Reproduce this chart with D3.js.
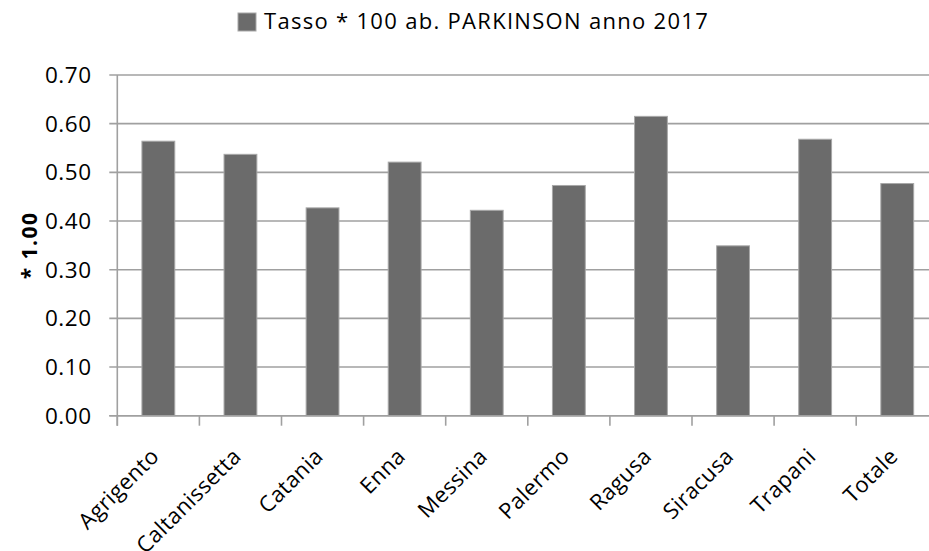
<!DOCTYPE html>
<html>
<head>
<meta charset="utf-8">
<script src="https://cdn.jsdelivr.net/npm/d3@7"></script>
<style>
  body { margin: 0; background: #fff; }
  svg { display: block; font-family: "Open Sans", sans-serif; }
</style>
</head>
<body>
<svg class="chart"></svg>
<script>
var provinces = ["Agrigento", "Caltanissetta", "Catania", "Enna", "Messina",
                 "Palermo", "Ragusa", "Siracusa", "Trapani", "Totale"];
var rates = [0.564, 0.537, 0.427, 0.521, 0.422, 0.473, 0.615, 0.349, 0.568, 0.477];
var yTicks = [0, 0.1, 0.2, 0.3, 0.4, 0.5, 0.6, 0.7];
var seriesName = "Tasso * 100 ab. PARKINSON anno 2017";
var yTitle = "* 1.00";

var data = provinces.map(function(p, i) { return {name: p, value: rates[i]}; });

var margin = {top: 75, left: 117.3},
    width = 821,
    height = 340.7;

var svg = d3.select(".chart")
    .attr("width", 929)
    .attr("height", 551);

var chart = svg.append("g")
    .attr("transform", "translate(" + margin.left + "," + margin.top + ")");

var x = d3.scaleBand()
    .domain(provinces)
    .range([0, width])
    .paddingInner(0.6)
    .paddingOuter(0.3);

var xOuter = d3.scaleBand()
    .domain(provinces)
    .range([0, width]);

var y = d3.scaleLinear()
    .domain([0, 0.7])
    .range([height, 0]);

// gridlines
chart.selectAll(".grid")
    .data(yTicks)
  .enter().append("line")
    .attr("class", "grid")
    .attr("x1", -8)
    .attr("x2", width)
    .attr("y1", function(d) { return y(d); })
    .attr("y2", function(d) { return y(d); })
    .attr("stroke", "#a0a0a0")
    .attr("stroke-width", 1.6);

// y tick labels
chart.selectAll(".ylab")
    .data(yTicks)
  .enter().append("text")
    .attr("class", "ylab")
    .attr("x", -25.5)
    .attr("y", function(d) { return y(d); })
    .attr("dy", "0.36em")
    .attr("text-anchor", "end")
    .style("font-size", "22.5px")
    .style("letter-spacing", "0.6px")
    .attr("fill", "#000")
    .text(function(d) { return d3.format(".2f")(d); });

// y axis line
chart.append("line")
    .attr("x1", 0).attr("x2", 0)
    .attr("y1", 0).attr("y2", height + 10)
    .attr("stroke", "#a0a0a0")
    .attr("stroke-width", 1.6);

// x ticks at category boundaries
chart.selectAll(".xtick")
    .data(provinces)
  .enter().append("line")
    .attr("class", "xtick")
    .attr("x1", function(d) { return xOuter(d); })
    .attr("x2", function(d) { return xOuter(d); })
    .attr("y1", height)
    .attr("y2", height + 10)
    .attr("stroke", "#a0a0a0")
    .attr("stroke-width", 1.6);

// bars
chart.selectAll(".bar")
    .data(data)
  .enter().append("rect")
    .attr("class", "bar")
    .attr("x", function(d) { return x(d.name); })
    .attr("y", function(d) { return y(d.value); })
    .attr("width", x.bandwidth())
    .attr("height", function(d) { return height - y(d.value); })
    .attr("fill", "#6b6b6b")
    .attr("stroke", "#a8a8a8")
    .attr("stroke-width", 1);

// x axis line on top of bars
chart.append("line")
    .attr("x1", -8).attr("x2", width)
    .attr("y1", height).attr("y2", height)
    .attr("stroke", "#a0a0a0")
    .attr("stroke-width", 1.6);

// x labels rotated
chart.selectAll(".xlab")
    .data(provinces)
  .enter().append("text")
    .attr("class", "xlab")
    .attr("transform", function(d) {
      return "translate(" + (xOuter(d) + xOuter.bandwidth() / 2 + 2) + "," + (height + 42) + ") rotate(-45)";
    })
    .attr("text-anchor", "end")
    .style("font-size", "22px")
    .style("letter-spacing", "0.4px")
    .attr("fill", "#000")
    .text(function(d) { return d; });

// y title
svg.append("text")
    .attr("transform", "translate(37," + (margin.top + height / 2) + ") rotate(-90)")
    .attr("text-anchor", "middle")
    .style("font-size", "21px")
    .style("font-weight", "bold")
    .style("letter-spacing", "1.5px")
    .text(yTitle);

// legend
var legend = svg.append("g")
    .attr("transform", "translate(238,13)");

legend.append("rect")
    .attr("width", 18)
    .attr("height", 18)
    .attr("fill", "#6b6b6b")
    .attr("stroke", "#a8a8a8")
    .attr("stroke-width", 1);

legend.append("text")
    .attr("x", 26)
    .attr("y", 15.5)
    .style("font-size", "22px")
    .style("letter-spacing", "1.3px")
    .attr("fill", "#000")
    .text(seriesName);
</script>
</body>
</html>
